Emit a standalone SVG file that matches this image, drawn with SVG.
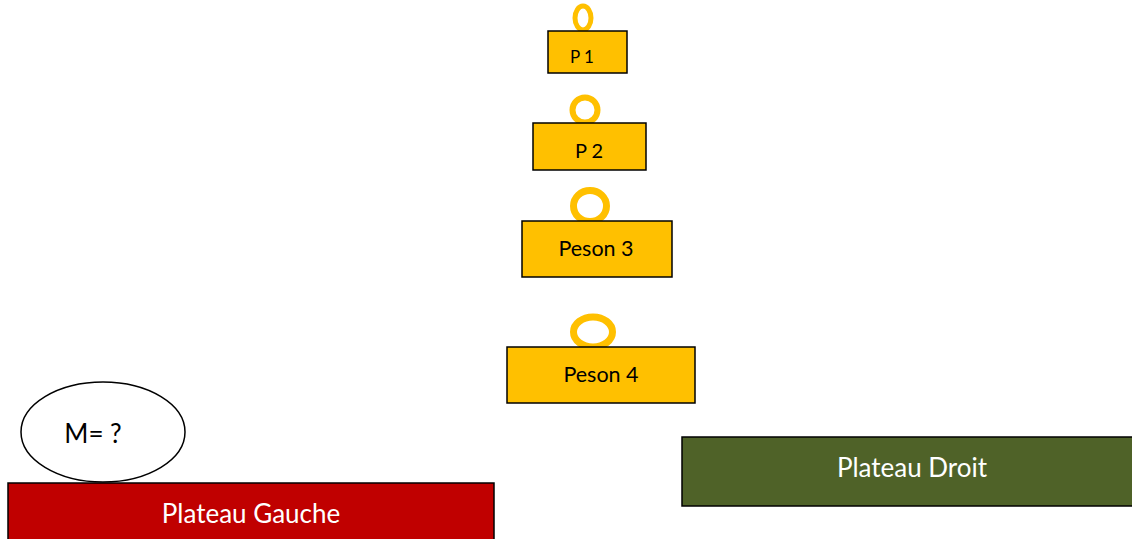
<svg xmlns="http://www.w3.org/2000/svg" width="1132" height="539" viewBox="0 0 1132 539">
<style>
.box{fill:#FFC000;stroke:#000;stroke-width:1.5}
.ring{fill:none;stroke:#FFC000}
.t{font-family:Lato,"Liberation Sans",sans-serif;text-anchor:middle;fill:#000}
.w{fill:#fff}
</style>
<rect width="1132" height="539" fill="#fff"/>
<g id="p1">
<ellipse class="ring" cx="583" cy="18" rx="8" ry="12" stroke-width="5"/>
<rect class="box" x="548" y="31" width="79" height="42"/>
<text class="t" x="582" y="63" font-size="17">P 1</text>
</g>
<g id="p2">
<ellipse class="ring" cx="585" cy="110" rx="12.5" ry="12.5" stroke-width="6"/>
<rect class="box" x="533" y="123" width="113" height="47"/>
<text class="t" x="589" y="158" font-size="20">P 2</text>
</g>
<g id="p3">
<ellipse class="ring" cx="590" cy="206" rx="16.5" ry="15.5" stroke-width="7"/>
<rect class="box" x="522" y="221" width="150" height="56"/>
<text class="t" x="596" y="256" font-size="21.5">Peson 3</text>
</g>
<g id="p4">
<ellipse class="ring" cx="593" cy="332" rx="19.5" ry="15" stroke-width="7"/>
<rect class="box" x="507" y="347" width="188" height="56"/>
<text class="t" x="601" y="382" font-size="21.5">Peson 4</text>
</g>
<g id="m">
<ellipse cx="103" cy="432" rx="82" ry="50" fill="#fff" stroke="#000" stroke-width="1.5"/>
<text class="t" x="93" y="443" font-size="26">M= ?</text>
</g>
<g id="gauche">
<rect x="8" y="483" width="486" height="60" fill="#C00000" stroke="#000" stroke-width="1.5"/>
<text class="t w" x="251" y="523" font-size="26">Plateau Gauche</text>
</g>
<g id="droit">
<rect x="682" y="437" width="452" height="69" fill="#4F6228" stroke="#000" stroke-width="1.5"/>
<text class="t w" x="912" y="477" font-size="26">Plateau Droit</text>
</g>
<g id="connectors"/>
</svg>
